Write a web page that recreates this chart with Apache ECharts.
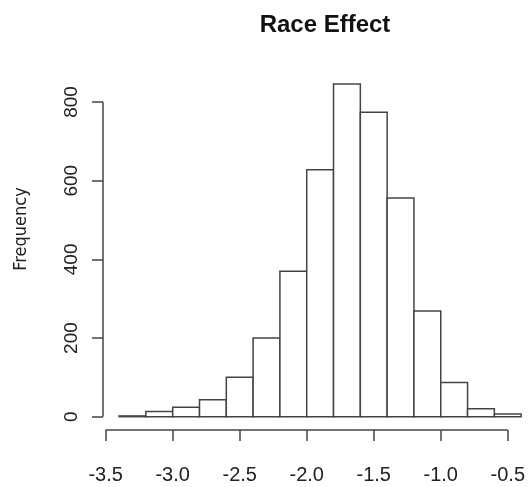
<!doctype html>
<html>
<head>
    <meta charset="utf-8"/>
    <title>Race Effect</title>
    <style>
    body { margin: 0; background-color: #fff; }
    #chart { width: 528px; height: 487px; }
    </style>
    <script src="https://cdn.jsdelivr.net/npm/echarts@6/dist/echarts.min.js"></script>
</head>
<body>
    <div id="chart"></div>
    <script>
    // histogram data
    const breaks = [-3.4, -3.2, -3.0, -2.8, -2.6, -2.4, -2.2, -2.0, -1.8, -1.6, -1.4, -1.2, -1.0, -0.8, -0.6, -0.4];
    const counts = [2, 13, 24, 43, 100, 200, 370, 628, 846, 774, 556, 269, 87, 20, 7];
    const xTicks = [-3.5, -3.0, -2.5, -2.0, -1.5, -1.0, -0.5];
    const yTicks = [0, 200, 400, 600, 800];

    // R-style plot range (4% padding)
    const xMin = -3.52, xMax = -0.36;
    const yMin = -33.8, yMax = 878.8;

    const font = "'Liberation Sans', Arial, sans-serif";
    const narrow = "'Liberation Sans Narrow', 'DejaVu Sans Condensed', 'Liberation Sans', sans-serif";
    const ink = '#444';

    const chart = echarts.init(document.getElementById('chart'));
    chart.setOption({
        animation: false,
        backgroundColor: '#fff',
        title: {
            text: 'Race Effect',
            left: 320,
            top: 8,
            textAlign: 'center',
            textStyle: { fontFamily: font, fontSize: 24, fontWeight: 'bold', color: '#111' }
        },
        grid: { left: 103, top: 71, width: 425, height: 359, containLabel: false },
        xAxis: {
            type: 'value', min: xMin, max: xMax,
            axisLine: { show: false, onZero: false },
            splitLine: { show: false },
            axisTick: { customValues: xTicks, length: 11, lineStyle: { color: ink, width: 1.5 } },
            axisLabel: {
                customValues: xTicks, margin: 35,
                formatter: v => v.toFixed(1),
                fontFamily: font, fontSize: 20, color: '#222'
            }
        },
        yAxis: {
            type: 'value', min: yMin, max: yMax,
            axisLine: { show: false, onZero: false },
            splitLine: { show: false },
            axisTick: { customValues: yTicks, length: 11, lineStyle: { color: ink, width: 1.5 } },
            axisLabel: {
                customValues: yTicks, margin: 22, rotate: 90,
                fontFamily: font, fontSize: 19, color: '#222'
            }
        },
        graphic: [{
            type: 'text', x: 21, y: 229, rotation: Math.PI / 2,
            style: {
                text: 'Frequency', font: '18px ' + narrow, fill: '#222',
                textAlign: 'center', textVerticalAlign: 'middle'
            }
        }],
        series: [
            {
                type: 'custom',
                data: counts.map((c, i) => [breaks[i], breaks[i + 1], c]),
                encode: { x: [0, 1], y: 2 },
                renderItem: (params, api) => {
                    const p0 = api.coord([api.value(0), 0]);
                    const p1 = api.coord([api.value(1), api.value(2)]);
                    return {
                        type: 'rect',
                        shape: { x: p0[0], y: p1[1], width: p1[0] - p0[0], height: p0[1] - p1[1] },
                        style: { fill: '#fff', stroke: ink, lineWidth: 1.5 }
                    };
                }
            },
            // axis lines only span first..last tick, like R
            {
                type: 'line', clip: false, symbol: 'none', silent: true,
                data: [[xTicks[0], yMin], [xTicks[xTicks.length - 1], yMin]],
                lineStyle: { color: ink, width: 1.5 }
            },
            {
                type: 'line', clip: false, symbol: 'none', silent: true,
                data: [[xMin, yTicks[0]], [xMin, yTicks[yTicks.length - 1]]],
                lineStyle: { color: ink, width: 1.5 }
            }
        ]
    });
    </script>
</body>
</html>
